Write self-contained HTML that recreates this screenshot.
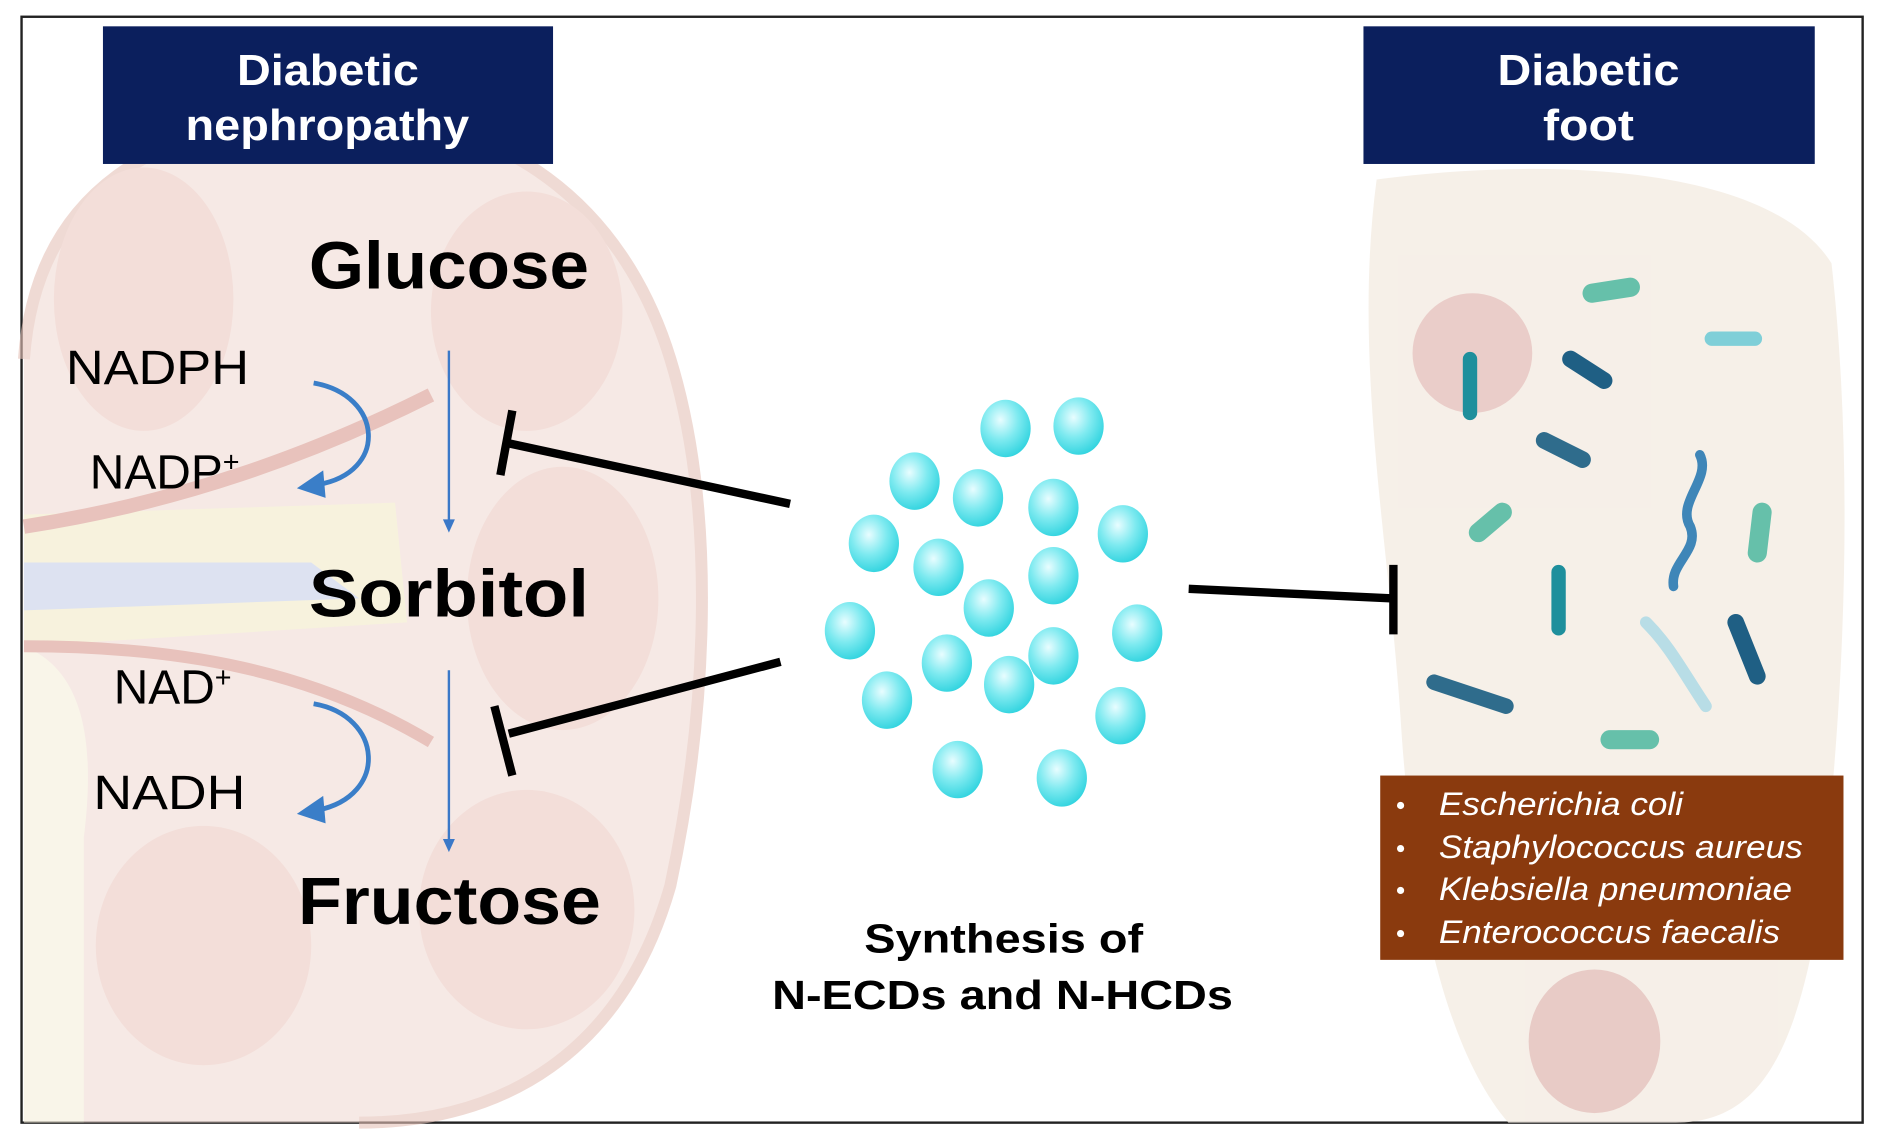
<!DOCTYPE html>
<html><head><meta charset="utf-8"><style>
html,body{margin:0;padding:0;background:#fff}
svg{display:block}
text{font-family:"Liberation Sans",sans-serif}
</style></head><body>
<svg width="1877" height="1137" viewBox="0 0 1568 950" preserveAspectRatio="none" xmlns="http://www.w3.org/2000/svg">
<defs>
<radialGradient id="sp" cx="0.4" cy="0.35" r="0.7">
<stop offset="0" stop-color="#e8fdff"/><stop offset="0.5" stop-color="#7eeaf0"/><stop offset="1" stop-color="#2cd2de"/>
</radialGradient>
</defs>
<rect x="0" y="0" width="1568" height="950" fill="#fff"/>
<rect x="18" y="14" width="1538" height="924" fill="#fff" stroke="#222" stroke-width="2"/>
<!-- kidney -->
<g opacity="0.6">
<path d="M20,300 C30,160 130,100 280,95 C420,95 520,170 560,300 C600,430 590,600 560,740 C520,880 420,938 300,938 L20,938 Z" fill="#f1dcd5"/>
<path d="M20,300 C30,160 130,100 280,95 C420,95 520,170 560,300 C600,430 590,600 560,740 C520,880 420,938 300,938" fill="none" stroke="#e6c2b8" stroke-width="10"/>
<ellipse cx="120" cy="250" rx="75" ry="110" fill="#ecc9c1"/>
<ellipse cx="440" cy="260" rx="80" ry="100" fill="#ecc9c1"/>
<ellipse cx="470" cy="500" rx="80" ry="110" fill="#ecc9c1"/>
<ellipse cx="440" cy="760" rx="90" ry="100" fill="#ecc9c1"/>
<ellipse cx="170" cy="790" rx="90" ry="100" fill="#ecc9c1"/>
<path d="M20,430 L330,420 L340,520 L20,540 Z" fill="#f2ebc8"/>
<path d="M20,470 L260,470 L300,500 L20,510 Z" fill="#c8d0e8"/>
<path d="M20,540 C70,560 80,620 70,700 L70,938 L20,938 Z" fill="#f6f0dc"/>
<path d="M20,440 C150,420 260,380 360,330" fill="none" stroke="#d99a90" stroke-width="12"/>
<path d="M20,540 C150,540 260,560 360,620" fill="none" stroke="#d99a90" stroke-width="10"/>
</g>
<!-- foot -->
<g opacity="0.85">
<path d="M1150,150 C1300,130 1480,140 1530,220 C1550,400 1540,600 1520,760 C1500,880 1470,938 1400,938 L1260,938 C1210,880 1180,760 1170,600 C1160,450 1130,300 1150,150 Z" fill="#f5ede4"/>
<ellipse cx="1230" cy="295" rx="50" ry="50" fill="#e7c5c0"/>
<ellipse cx="1332" cy="870" rx="55" ry="60" fill="#e5c2bd"/>
</g>
<!-- bacteria -->
<g stroke-linecap="round">
<line x1="1228" y1="300" x2="1228" y2="345" stroke="#1e8f9c" stroke-width="12"/>
<line x1="1302" y1="478" x2="1302" y2="525" stroke="#1e8f9c" stroke-width="12"/>
<line x1="1430" y1="283" x2="1466" y2="283" stroke="#7fcfd8" stroke-width="12"/>
<line x1="1312" y1="300" x2="1340" y2="318" stroke="#1f5f84" stroke-width="14"/>
<line x1="1290" y1="368" x2="1322" y2="384" stroke="#2f6c8c" stroke-width="14"/>
<line x1="1198" y1="570" x2="1258" y2="590" stroke="#2f6c8c" stroke-width="13"/>
<line x1="1450" y1="520" x2="1468" y2="565" stroke="#1f5f84" stroke-width="14"/>
<line x1="1330" y1="245" x2="1362" y2="240" stroke="#66c0aa" stroke-width="16"/>
<line x1="1235" y1="445" x2="1255" y2="428" stroke="#66c0aa" stroke-width="16"/>
<line x1="1472" y1="428" x2="1468" y2="462" stroke="#66c0aa" stroke-width="16"/>
<line x1="1345" y1="618" x2="1378" y2="618" stroke="#66c0aa" stroke-width="16"/>
<path d="M1420,380 C1430,400 1400,420 1412,440 C1420,460 1395,470 1398,490" fill="none" stroke="#3f86b8" stroke-width="8"/>
<path d="M1375,520 C1395,540 1405,560 1425,590" fill="none" stroke="#b8dde6" stroke-width="10"/>
</g>
<!-- headers -->
<rect x="86" y="22" width="376" height="115" fill="#0b1f5d"/>
<text x="198" y="71" fill="#fff" font-size="36" font-weight="bold" textLength="152" lengthAdjust="spacingAndGlyphs">Diabetic</text>
<text x="155" y="117" fill="#fff" font-size="36" font-weight="bold" textLength="237" lengthAdjust="spacingAndGlyphs">nephropathy</text>
<rect x="1139" y="22" width="377" height="115" fill="#0b1f5d"/>
<text x="1251" y="71" fill="#fff" font-size="36" font-weight="bold" textLength="152" lengthAdjust="spacingAndGlyphs">Diabetic</text>
<text x="1289" y="117" fill="#fff" font-size="36" font-weight="bold" textLength="76" lengthAdjust="spacingAndGlyphs">foot</text>
<!-- pathway -->
<text x="258" y="241" font-size="56" font-weight="bold" fill="#000" textLength="234" lengthAdjust="spacingAndGlyphs">Glucose</text>
<text x="258" y="515" font-size="56" font-weight="bold" fill="#000" textLength="234" lengthAdjust="spacingAndGlyphs">Sorbitol</text>
<text x="249" y="772" font-size="56" font-weight="bold" fill="#000" textLength="253" lengthAdjust="spacingAndGlyphs">Fructose</text>
<text x="55" y="321" font-size="40" fill="#000" textLength="153" lengthAdjust="spacingAndGlyphs">NADPH</text>
<text x="75" y="408" font-size="40" fill="#000">NADP<tspan font-size="24" dy="-14">+</tspan></text>
<text x="95" y="588" font-size="40" fill="#000">NAD<tspan font-size="24" dy="-14">+</tspan></text>
<text x="78" y="676" font-size="40" fill="#000" textLength="127" lengthAdjust="spacingAndGlyphs">NADH</text>
<line x1="375" y1="293" x2="375" y2="436" stroke="#3a78c8" stroke-width="2"/>
<path d="M370,434 L375,445 L380,434 Z" fill="#3a78c8"/>
<line x1="375" y1="560" x2="375" y2="703" stroke="#3a78c8" stroke-width="2"/>
<path d="M370,701 L375,712 L380,701 Z" fill="#3a78c8"/>
<path d="M262,320 C320,330 325,395 265,405" fill="none" stroke="#3a7ec8" stroke-width="4"/>
<path d="M248,408 L270,393 L272,416 Z" fill="#3a7ec8"/>
<path d="M262,588 C320,598 325,665 265,677" fill="none" stroke="#3a7ec8" stroke-width="4"/>
<path d="M248,680 L270,665 L272,688 Z" fill="#3a7ec8"/>
<!-- inhibitors -->
<g stroke="#000" stroke-width="7">
<line x1="660" y1="421" x2="423" y2="370"/>
<line x1="428" y1="343" x2="418" y2="397"/>
<line x1="652" y1="553" x2="425" y2="613"/>
<line x1="413" y1="590" x2="428" y2="648"/>
<line x1="993" y1="492" x2="1164" y2="500"/>
<line x1="1164" y1="472" x2="1164" y2="530"/>
</g>
<!-- spheres -->
<g fill="url(#sp)">
<ellipse cx="840" cy="358" rx="21" ry="24"/><ellipse cx="901" cy="356" rx="21" ry="24"/>
<ellipse cx="764" cy="402" rx="21" ry="24"/><ellipse cx="817" cy="416" rx="21" ry="24"/>
<ellipse cx="880" cy="424" rx="21" ry="24"/><ellipse cx="938" cy="446" rx="21" ry="24"/>
<ellipse cx="730" cy="454" rx="21" ry="24"/><ellipse cx="784" cy="474" rx="21" ry="24"/>
<ellipse cx="880" cy="481" rx="21" ry="24"/><ellipse cx="826" cy="508" rx="21" ry="24"/>
<ellipse cx="710" cy="527" rx="21" ry="24"/><ellipse cx="950" cy="529" rx="21" ry="24"/>
<ellipse cx="791" cy="554" rx="21" ry="24"/><ellipse cx="880" cy="548" rx="21" ry="24"/>
<ellipse cx="843" cy="572" rx="21" ry="24"/><ellipse cx="741" cy="585" rx="21" ry="24"/>
<ellipse cx="936" cy="598" rx="21" ry="24"/><ellipse cx="800" cy="643" rx="21" ry="24"/>
<ellipse cx="887" cy="650" rx="21" ry="24"/>
</g>
<text x="722" y="796" font-size="34" font-weight="bold" fill="#000" textLength="233" lengthAdjust="spacingAndGlyphs">Synthesis of</text>
<text x="645" y="843" font-size="34" font-weight="bold" fill="#000" textLength="385" lengthAdjust="spacingAndGlyphs">N-ECDs and N-HCDs</text>
<!-- species box -->
<rect x="1153" y="648" width="387" height="154" fill="#8a3a0e"/>
<g fill="#fff" font-size="27" font-style="italic">
<text x="1202" y="681" textLength="204" lengthAdjust="spacingAndGlyphs">Escherichia coli</text>
<text x="1202" y="717" textLength="304" lengthAdjust="spacingAndGlyphs">Staphylococcus aureus</text>
<text x="1202" y="752" textLength="295" lengthAdjust="spacingAndGlyphs">Klebsiella  pneumoniae</text>
<text x="1202" y="788" textLength="285" lengthAdjust="spacingAndGlyphs">Enterococcus faecalis</text>
</g>
<g fill="#fff"><circle cx="1170" cy="673" r="3"/><circle cx="1170" cy="709" r="3"/><circle cx="1170" cy="744" r="3"/><circle cx="1170" cy="780" r="3"/></g>
</svg>
</body></html>
